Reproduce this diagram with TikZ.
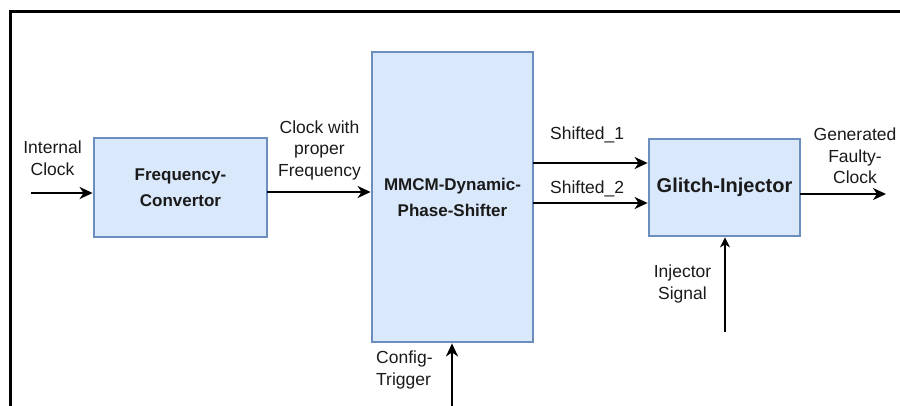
\documentclass[tikz,border=0pt]{standalone}
\usepackage{fontspec}
\setmainfont{Liberation Sans}
\usetikzlibrary{arrows.meta}
\definecolor{boxfill}{HTML}{DAE8FC}
\definecolor{boxdraw}{HTML}{6C8EBF}
\definecolor{txt}{HTML}{1A1A1A}
\begin{document}
\begin{tikzpicture}[x=1pt,y=-1pt,
  blk/.style={draw=boxdraw,fill=boxfill,line width=2.8pt,inner sep=0pt,align=center,text=txt,
    font=\fontsize{17}{26}\selectfont\bfseries},
  lbl/.style={inner sep=0pt,align=center,text=txt,font=\fontsize{17.5}{21.5}\selectfont},
  arr/.style={line width=2.6pt,-{Stealth[length=13pt,width=12pt,inset=4pt]}},
  thinarr/.style={line width=1.6pt,-{Stealth[length=10pt,width=10pt,inset=3pt]}},
]
\useasboundingbox (0,0) rectangle (900,405);
% frame
\draw[line width=2.5pt,line cap=rect] (10.5,406) -- (10.5,11.5) -- (901,11.5);

% blocks
\node[blk,minimum width=173pt,minimum height=99pt] (fc) at (180.5,187.5) {Frequency-\\Convertor};
\node[blk,minimum width=161pt,minimum height=290pt] (mm) at (452.5,197) {MMCM-Dynamic-\\Phase-Shifter};
\node[blk,minimum width=151pt,minimum height=97pt,font=\fontsize{20}{24}\selectfont\bfseries] (gi) at (724.5,187.5) {Glitch-Injector};

% labels
\node[lbl] (lic) at (52.5,158) {Internal\\Clock};
\node[lbl] (lcp) at (319.5,150) {Clock with\\proper\\Frequency};
\node[lbl,anchor=west] (ls1) at (550,135) {Shifted\_1};
\node[lbl,anchor=west] (ls2) at (550,189) {Shifted\_2};
\node[lbl] (lgf) at (855,156) {Generated\\Faulty-\\Clock};
\node[lbl,align=left,anchor=west] (lct) at (376,370) {Config-\\Trigger};
\node[lbl] (lis) at (682.5,284) {Injector\\Signal};

% connector endpoints
\coordinate (icS) at (31,193);
\coordinate (fcO) at (267,192);
\coordinate (s1) at (533,163);
\coordinate (s2) at (533,203);
\coordinate (goS) at (800,194);
\coordinate (goE) at (886,194);
\coordinate (ctS) at (452,406);
\coordinate (isS) at (725,332);

% connectors
\draw[arr] (icS) -- (icS -| fc.west);
\draw[arr] (fcO) -- (fcO -| mm.west);
\draw[arr] (s1) -- (s1 -| gi.west);
\draw[arr] (s2) -- (s2 -| gi.west);
\draw[arr] (goS) -- (goE);
\draw[arr] (ctS) -- (ctS |- mm.south);
\draw[thinarr] (isS) -- (isS |- gi.south);
\end{tikzpicture}
\end{document}
